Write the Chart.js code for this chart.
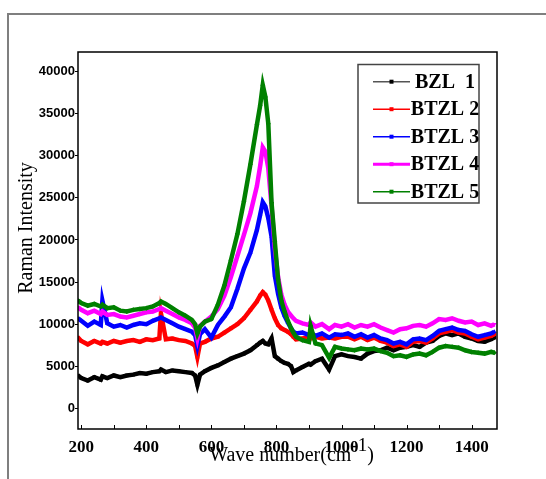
<!DOCTYPE html>
<html>
<head>
<meta charset="utf-8">
<script src="https://cdn.jsdelivr.net/npm/chart.js@4"></script>
<style>
  body { margin: 0; background: #fff; }
  #wrap { width: 546px; height: 479px; }
</style>
</head>
<body>
<div id="wrap"><canvas id="raman" width="546" height="479"></canvas></div>
<script>
// Raman spectra, wave number (cm-1) vs intensity
const wavenumbers = [
  190, 200, 220, 240, 260, 265, 280, 300, 320, 340,
  360, 380, 400, 420, 440, 445, 460, 480, 500, 520,
  540, 550, 557, 565, 580, 600, 620, 640, 660, 680,
  700, 720, 740, 750, 758, 766, 775, 785, 795, 805,
  815, 825, 835, 845, 852, 860, 880, 900, 905, 920,
  940, 962, 980, 1000, 1020, 1040, 1060, 1080, 1100, 1120,
  1140, 1160, 1180, 1200, 1220, 1240, 1260, 1280, 1300, 1320,
  1340, 1360, 1380, 1400, 1420, 1440, 1460, 1470
]

const bzl1 = [
  3900, 3600, 3300, 3700, 3400, 3800, 3600, 3900, 3700, 3900,
  4000, 4200, 4100, 4300, 4400, 4600, 4300, 4500, 4400, 4300,
  4200, 3900, 2800, 4000, 4400, 4800, 5100, 5500, 5900, 6200,
  6500, 6900, 7500, 7800, 8000, 7700, 7600, 8300, 6200, 5900,
  5600, 5400, 5300, 5000, 4300, 4500, 4900, 5300, 5200, 5600,
  5900, 4600, 6200, 6400, 6200, 6100, 5900, 6500, 6800, 6900,
  7200, 6900, 7200, 7300, 7500, 7300, 7800, 8000, 8600, 8900,
  8700, 8900, 8500, 8300, 8000, 7900, 8200, 8400
]

const btzl2 = [
  8400, 8000, 7600, 8000, 7700, 7900, 7700, 8000, 7800, 8000,
  8100, 7900, 8200, 8100, 8300, 11300, 8200, 8300, 8100, 8000,
  7700, 7400, 6100, 7700, 7900, 8300, 8500, 9000, 9500, 10000,
  10700, 11700, 12700, 13400, 13800, 13500, 12800, 11700, 10700, 9900,
  9500, 9300, 9100, 8800, 8500, 8200, 8300, 8400, 8300, 8500,
  8300, 8400, 8300, 8500, 8500, 8200, 8500, 8100, 8400, 8000,
  7800, 7400, 7600, 7300, 7900, 8000, 7800, 8300, 8900, 9100,
  9300, 9000, 8900, 8500, 8200, 8400, 8600, 8800
]

const btzl3 = [
  10700, 10400, 9800, 10300, 9900, 12800, 10100, 9700, 9900, 9600,
  9900, 10100, 10000, 10400, 10700, 10800, 10500, 10100, 9700, 9400,
  9100, 8700, 7400, 8800, 9400, 8400, 9900, 10900, 12000, 14200,
  16600, 18500, 21200, 23000, 24500, 24000, 22600, 20400, 15800, 13600,
  12000, 11000, 10200, 9500, 9100, 8900, 9000, 8700, 9000, 8600,
  8900, 8400, 8800, 8700, 8900, 8500, 8800, 8400, 8700, 8300,
  8100, 7700, 7900, 7600, 8200, 8300, 8100, 8600, 9200, 9400,
  9600, 9300, 9200, 8800, 8500, 8700, 8900, 9100
]

const btzl4 = [
  12000, 11700, 11300, 11600, 11200, 11500, 11100, 11200, 10900, 10800,
  11000, 11200, 11400, 11500, 11800, 11900, 11600, 11200, 10800, 10500,
  10100, 9600, 8300, 9800, 10300, 10900, 11800, 13400, 15600, 18100,
  20600, 23200, 26400, 28800, 31000, 30500, 28500, 24000, 19000, 15600,
  13500, 12300, 11500, 11000, 10700, 10400, 10100, 9900, 10200, 9700,
  10000, 9400, 9900, 9700, 10000, 9600, 9900, 9700, 10000, 9600,
  9300, 9000, 9400, 9500, 9800, 9900, 9700, 10100, 10600, 10500,
  10700, 10400, 10200, 10300, 9900, 10100, 9800, 10000
]

const btzl5 = [
  12800, 12500, 12200, 12400, 12100, 12300, 11900, 12000, 11600, 11500,
  11700, 11800, 11900, 12100, 12500, 12700, 12400, 11900, 11400, 11000,
  10500, 10000, 8900, 9700, 10300, 10600, 12300, 14600, 17600, 20700,
  24600, 29000, 33700, 36000, 38400, 37000, 33800, 24400, 19800, 15300,
  12800, 11500, 10400, 9500, 9000, 8500, 8100, 7900, 9800, 7700,
  7500, 6000, 7300, 7100, 7000, 6900, 7100, 7000, 7100, 6800,
  6600, 6200, 6300, 6100, 6400, 6500, 6300, 6700, 7200, 7400,
  7300, 7200, 6900, 6700, 6600, 6500, 6700, 6600
]

const seriesLabels = ['BZL  1', 'BTZL 2', 'BTZL 3', 'BTZL 4', 'BTZL 5']
const seriesValues = [bzl1, btzl2, btzl3, btzl4, btzl5]
const seriesColors = ['#000000', '#ff0000', '#0000ff', '#ff00ff', '#008000']
const seriesMarkers = ['rect', 'rect', 'triangle', 'triangle', 'rectRot']
const markerTurn = [0, 0, 0, 180, 0]

const xTicks = [200, 400, 600, 800, 1000, 1200, 1400]
const yTicks = [0, 5000, 10000, 15000, 20000, 25000, 30000, 35000, 40000]

const SERIF = '"Liberation Serif", "Times New Roman", serif'
const SANS = '"Liberation Sans", Arial, sans-serif'

const datasets = seriesLabels.map((label, i) => ({
  label: label,
  data: wavenumbers.map((w, j) => ({ x: w, y: seriesValues[i][j] })),
  borderColor: seriesColors[i],
  backgroundColor: seriesColors[i],
  borderWidth: 4.5,
  pointRadius: 2.5,
  pointStyle: seriesMarkers[i],
  pointRotation: markerTurn[i],
  pointBorderWidth: 0,
  tension: 0,
  order: seriesLabels.length - i   // last series drawn on top
}))

// frame, titles, minor ticks and the boxed legend
const decorations = {
  id: 'decorations',
  beforeDraw(chart) {
    const ctx = chart.ctx
    ctx.save()
    ctx.strokeStyle = '#7f7f7f'
    ctx.lineWidth = 2
    ctx.beginPath()
    ctx.moveTo(8, 479)
    ctx.lineTo(8, 14)
    ctx.lineTo(546, 14)
    ctx.stroke()
    ctx.restore()
  },
  afterDraw(chart) {
    const ctx = chart.ctx
    const a = chart.chartArea
    const xs = chart.scales.x
    ctx.save()

    ctx.strokeStyle = '#000'
    ctx.lineWidth = 1.5
    ctx.strokeRect(a.left, a.top, a.right - a.left, a.bottom - a.top)

    // small inward ticks every 100
    ctx.lineWidth = 1
    for (let v = xTicks[0]; v <= xTicks[xTicks.length - 1]; v += 100) {
      const px = Math.round(xs.getPixelForValue(v)) + 0.5
      ctx.beginPath()
      ctx.moveTo(px, a.bottom)
      ctx.lineTo(px, a.bottom - 4)
      ctx.stroke()
    }

    ctx.fillStyle = '#000'

    // y title
    ctx.save()
    ctx.translate(27, 228)
    ctx.rotate(-Math.PI / 2)
    ctx.font = '20px ' + SERIF
    ctx.textAlign = 'center'
    ctx.textBaseline = 'middle'
    ctx.fillText('Raman Intensity', 0, 0)
    ctx.restore()

    // x title with superscript
    ctx.font = '20px ' + SERIF
    ctx.textBaseline = 'alphabetic'
    ctx.textAlign = 'left'
    const main = 'Wave number(cm', sup = '-1', close = ')'
    const wMain = ctx.measureText(main).width
    const wClose = ctx.measureText(close).width
    ctx.font = '19px ' + SERIF
    const wSup = ctx.measureText(sup).width
    let x0 = (a.left + a.right) / 2 - (wMain + wSup + wClose) / 2 + 4
    ctx.font = '20px ' + SERIF
    ctx.fillText(main, x0, 461)
    ctx.font = '19px ' + SERIF
    ctx.fillText(sup, x0 + wMain, 451)
    ctx.font = '20px ' + SERIF
    ctx.fillText(close, x0 + wMain + wSup, 461)

    // legend box
    const box = { left: 358, top: 64.5, right: 479, bottom: 203 }
    ctx.strokeStyle = '#444'
    ctx.lineWidth = 1.5
    ctx.strokeRect(box.left, box.top, box.right - box.left, box.bottom - box.top)
    ctx.font = 'bold 20px ' + SERIF
    ctx.textAlign = 'center'
    ctx.textBaseline = 'middle'
    chart.data.datasets.forEach((ds, i) => {
      const y = 81.7 + i * 27.5
      ctx.strokeStyle = i === 0 ? '#555' : ds.borderColor
      ctx.lineWidth = i === 3 ? 3 : 1.5
      ctx.beginPath()
      ctx.moveTo(373, y)
      ctx.lineTo(410, y)
      ctx.stroke()
      ctx.fillStyle = ds.borderColor
      ctx.fillRect(389.5, y - 2, 4, 4)
      ctx.fillStyle = '#000'
      ctx.fillText(ds.label, (411 + box.right) / 2, y + 1)
    })
    ctx.restore()
  }
}

new Chart(document.getElementById('raman'), {
  type: 'line',
  data: { datasets: datasets },
  options: {
    responsive: false,
    animation: false,
    devicePixelRatio: 1,
    layout: { padding: { top: 52, right: 49, left: 0, bottom: 0 } },
    plugins: { legend: { display: false }, tooltip: { enabled: false } },
    scales: {
      x: {
        type: 'linear',
        min: 190,
        max: 1478,
        afterBuildTicks: s => { s.ticks = xTicks.map(v => ({ value: v })) },
        afterFit: s => { s.height = 50 },
        grid: { display: false, drawTicks: false },
        border: { display: false },
        ticks: {
          color: '#000',
          padding: 8,
          maxRotation: 0,
          autoSkip: false,
          callback: v => String(v),
          font: { family: SERIF, weight: 'bold', size: 17 }
        }
      },
      y: {
        type: 'linear',
        min: -2460,
        max: 42340,
        afterBuildTicks: s => { s.ticks = yTicks.map(v => ({ value: v })) },
        afterFit: s => { s.width = 78 },
        grid: { display: true, drawOnChartArea: false, drawTicks: true, tickLength: 3, color: '#000' },
        border: { display: false },
        ticks: {
          color: '#000',
          padding: 0,
          callback: v => String(v),
          font: { family: SANS, weight: 'bold', size: 13 }
        }
      }
    }
  },
  plugins: [decorations]
})
</script>
</body>
</html>
